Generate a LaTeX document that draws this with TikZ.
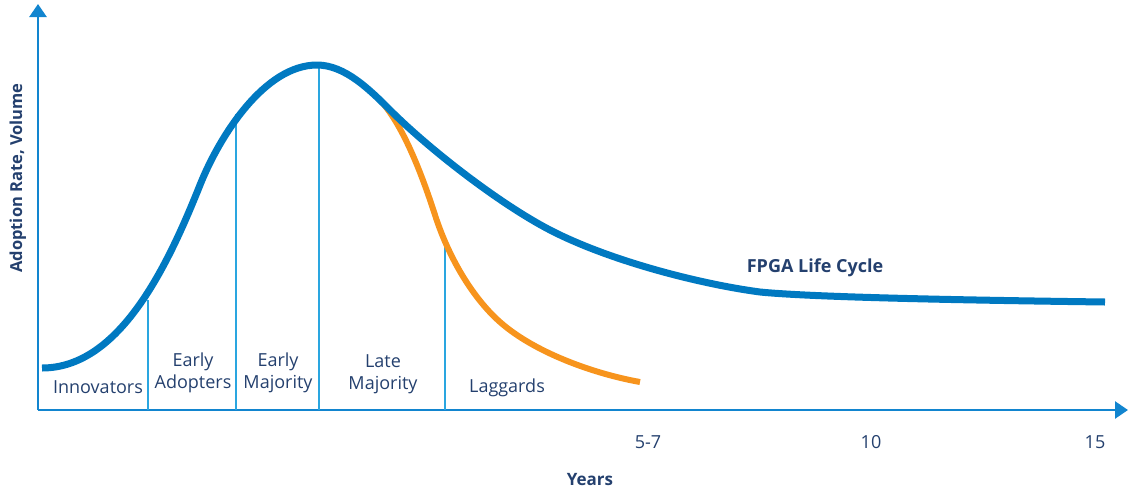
\documentclass[tikz,border=0pt]{standalone}
\usepackage{fontspec}
\setmainfont{Open Sans}
\usetikzlibrary{arrows.meta}
\definecolor{curveblue}{HTML}{0079C1}
\definecolor{axisblue}{HTML}{1285CF}
\definecolor{divblue}{HTML}{2AA6E0}
\definecolor{lcorange}{HTML}{F7941D}
\definecolor{navy}{HTML}{24406E}
\begin{document}
\begin{tikzpicture}[x=1pt,y=-1pt,
  axisline/.style={draw=axisblue,line width=2.6pt,-{Triangle[length=13pt,width=17pt]}},
  divider/.style={draw=divblue,line width=2pt},
  lbl/.style={text=navy,font=\fontsize{18}{22}\selectfont,align=center,inner sep=0pt},
  boldlbl/.style={text=navy,font=\fontsize{17}{20}\selectfont\bfseries,inner sep=0pt},
  bluecurve/.style={draw=curveblue,line width=7pt},
  orangecurve/.style={draw=lcorange,line width=6pt}]
\useasboundingbox (0,0) rectangle (1128,491);
% axes
\coordinate (O) at (38,410);
\coordinate (ytop) at (38,4);
\coordinate (xend) at (1128,410);
\draw[axisline] (O) -- (ytop);
\draw[axisline] (O) -- (xend);
% dividers
\coordinate (d1b) at (148,410); \coordinate (d1t) at (148,300);
\coordinate (d2b) at (236,410); \coordinate (d2t) at (236,114);
\coordinate (d3b) at (319,410); \coordinate (d3t) at (319,65);
\coordinate (d4b) at (445,410); \coordinate (d4t) at (445,246);
\draw[divider] (d1b) -- (d1t);
\draw[divider] (d2b) -- (d2t);
\draw[divider] (d3b) -- (d3t);
\draw[divider] (d4b) -- (d4t);
% orange curve
\draw[orangecurve] (378,98) .. controls (398,118) and (417,159) .. (435,215)
  .. controls (450,261.5) and (475,300) .. (500,322)
  .. controls (535,353) and (595,374) .. (640,382);
% blue curve
\draw[bluecurve] (42,368) .. controls (120,368) and (168,265) .. (200,185)
  .. controls (220,135) and (265,65) .. (317,65)
  .. controls (345,65) and (370,90) .. (390,110)
  .. controls (430,150) and (500,204) .. (550,230)
  .. controls (610,261) and (700,284) .. (760,292)
  .. controls (810,297) and (950,300) .. (1105,302);
% stage labels
\node[lbl,anchor=base] (innov) at (98,393) {Innovators};
\node[lbl,anchor=center] (eadopt) at (193,373) {Early\\Adopters};
\node[lbl,anchor=center] (emaj) at (278,373) {Early\\Majority};
\node[lbl,anchor=center] (lmaj) at (383,374) {Late\\Majority};
\node[lbl,anchor=base] (lagg) at (507,392) {Laggards};
% year ticks
\node[lbl,anchor=base] (y57) at (648,448) {5-7};
\node[lbl,anchor=base] (y10) at (871,448) {10};
\node[lbl,anchor=base] (y15) at (1095,448) {15};
% axis titles
\node[boldlbl,anchor=base] (years) at (590,485) {Years};
\node[boldlbl,font=\fontsize{16.5}{20}\selectfont\bfseries,anchor=base,rotate=90] (ylab) at (22,178) {Adoption Rate, Volume};
\node[boldlbl,font=\fontsize{18}{20}\selectfont\bfseries,anchor=base] (fpga) at (815,272) {FPGA Life Cycle};
\end{tikzpicture}
\end{document}
